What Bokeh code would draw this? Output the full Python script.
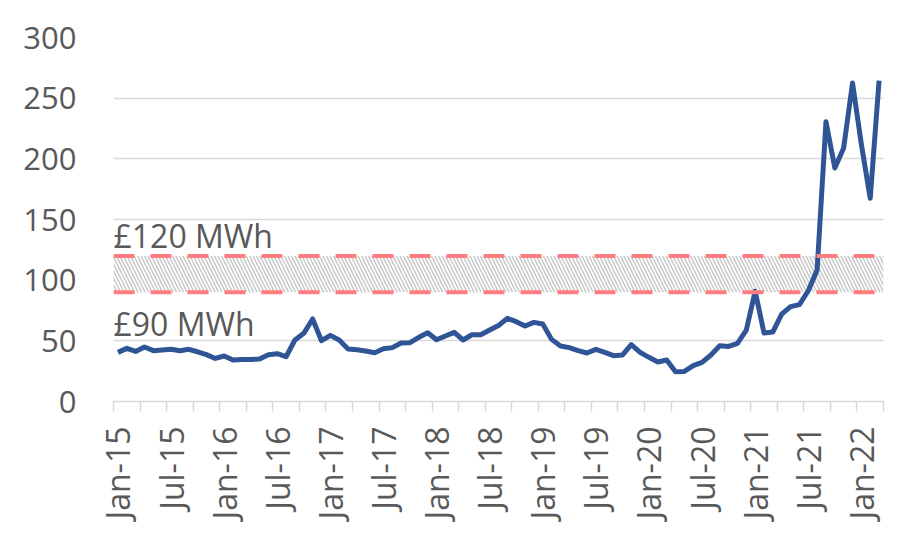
import math
from bokeh.plotting import figure
from bokeh.models import FixedTicker, Span, Label, ColumnDataSource
from bokeh.embed import file_html
from bokeh.resources import INLINE

# ---- data ----
values = [40.5, 43.8, 41.3, 44.9, 41.9, 42.4, 43.0, 41.9, 43.0, 41.0, 38.6, 35.5,
          37.5, 34.2, 34.7, 34.7, 35.0, 38.6, 39.4, 36.9, 50.7, 56.2, 68.0, 50.1,
          54.5, 50.7, 43.3, 42.7, 41.6, 40.2, 43.5, 44.4, 48.2, 48.5, 52.9, 56.7,
          50.9, 54.0, 57.0, 50.7, 55.0, 55.0, 58.9, 62.7, 68.5, 65.8, 62.2, 65.2,
          63.9, 51.2, 45.7, 44.4, 41.9, 40.0, 43.0, 40.5, 37.8, 38.3, 46.8, 40.5,
          36.4, 32.6, 34.2, 24.6, 24.8, 29.5, 32.2, 38.3, 46.0, 45.4, 47.9, 58.9,
          90.8, 56.5, 57.3, 72.0, 78.2, 79.8, 91.3, 108.4, 230.6, 192.4, 209.0, 262.5,
          212.0, 167.5, 264.5]
tick_labels = ["Jan-15", "Jul-15", "Jan-16", "Jul-16", "Jan-17", "Jul-17", "Jan-18",
               "Jul-18", "Jan-19", "Jul-19", "Jan-20", "Jul-20", "Jan-21", "Jul-21",
               "Jan-22"]
label_step = 6
tick_step = 3
y_ticks = [0, 50, 100, 150, 200, 250, 300]
band_low = 90
band_high = 120
band_low_text = "£90 MWh"
band_high_text = "£120 MWh"

n = len(values)
months = list(range(n))

FONT = "Open Sans"
TEXT = "#595959"
GRID = "#D9D9D9"
LINE = "#2F5597"
RED = "#FF7C80"

p = figure(width=895, height=524, output_backend="svg", toolbar_location=None,
           x_range=(-0.5, n - 0.5), y_range=(0, 300),
           min_border_left=113, min_border_right=12, min_border_top=37,
           min_border_bottom=123)
p.outline_line_color = None
p.background_fill_color = "white"
p.border_fill_color = "white"

# grid
p.xgrid.grid_line_color = None
p.ygrid.grid_line_color = GRID
p.ygrid.grid_line_width = 1.5
p.ygrid.ticker = FixedTicker(ticks=y_ticks)

# hatched band
band_src = ColumnDataSource(dict(x=[-0.5, n - 0.5], y1=[band_low, band_low], y2=[band_high, band_high]))
p.varea(x="x", y1="y1", y2="y2", source=band_src, fill_color="white", fill_alpha=1.0,
        hatch_pattern="\\", hatch_color="#C8C8C8", hatch_scale=7, hatch_weight=1.5)

for loc in (band_low, band_high):
    p.add_layout(Span(location=loc, dimension="width", line_color=RED, line_width=4,
                      line_dash="21 16"))

# main line
src = ColumnDataSource(dict(x=months, y=values))
p.line("x", "y", source=src, line_color=LINE, line_width=5, line_join="round")

# annotations
p.add_layout(Label(x=-0.5, y=band_high, y_offset=20, text=band_high_text,
                   text_font=FONT, text_font_size="32px", text_color=TEXT,
                   text_baseline="alphabetic", text_align="left"))
p.add_layout(Label(x=-0.5, y=band_low, y_offset=-31, text=band_low_text,
                   text_font=FONT, text_font_size="32px", text_color=TEXT,
                   text_baseline="alphabetic", text_align="left"))

# x axis
label_pos = [i * label_step for i in range(len(tick_labels))]
minor = [k * tick_step - 0.5 for k in range(n // tick_step + 1)]
xa = p.xaxis[0]
xa.ticker = FixedTicker(ticks=label_pos, minor_ticks=minor)
xa.major_label_overrides = {pos: lab for pos, lab in zip(label_pos, tick_labels)}
xa.major_label_orientation = math.pi / 2
xa.axis_line_color = GRID
xa.axis_line_width = 1.5
xa.major_tick_line_color = None
xa.major_tick_out = 0
xa.major_tick_in = 0
xa.minor_tick_line_color = GRID
xa.minor_tick_line_width = 1.5
xa.minor_tick_out = 10
xa.minor_tick_in = 0
xa.major_label_standoff = 15
xa.major_label_text_font = FONT
xa.major_label_text_font_size = "32px"
xa.major_label_text_color = TEXT

# y axis
ya = p.yaxis[0]
ya.ticker = FixedTicker(ticks=y_ticks)
ya.axis_line_color = None
ya.major_tick_line_color = None
ya.minor_tick_line_color = None
ya.major_tick_out = 0
ya.major_tick_in = 0
ya.major_label_standoff = 37
ya.major_label_text_font = FONT
ya.major_label_text_font_size = "31px"
ya.major_label_text_color = TEXT

open("out.html", "w").write(file_html(p, INLINE))
